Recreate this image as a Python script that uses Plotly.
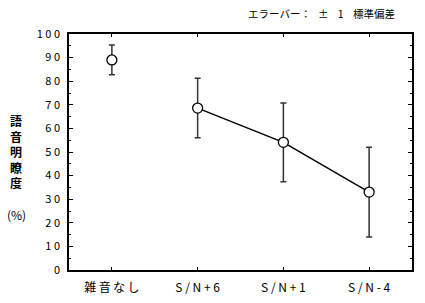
import plotly.graph_objects as go

categories = ["雑音なし", "S/N+6", "S/N+1", "S/N-4"]
means = [89.0, 68.6, 54.1, 33.0]
sd = [6.3, 12.6, 16.7, 19.0]
y_ticks = [0, 10, 20, 30, 40, 50, 60, 70, 80, 90, 100]

FONT = "Noto Sans CJK JP, Noto Sans, sans-serif"
xs = list(range(len(categories)))


def spaced(s, sep):
    return sep.join(list(s))


cat_text = [spaced(categories[0], "\u2009")] + [spaced(c, " ") for c in categories[1:]]
y_text = [spaced(str(v), " ") for v in y_ticks]

fig = go.Figure()
# connecting line for noisy conditions
fig.add_trace(go.Scatter(
    x=xs[1:], y=means[1:], mode="lines",
    line=dict(color="black", width=1.5), showlegend=False, hoverinfo="skip"))
fig.add_trace(go.Scatter(
    x=xs, y=means, mode="markers",
    marker=dict(symbol="circle", size=10, color="white",
                line=dict(color="black", width=1.3)),
    error_y=dict(type="data", array=sd, color="#333333", thickness=1.5, width=3),
    showlegend=False))

W, H = 425, 303
ML, MR, MT, MB = 69, 13, 34, 33
PW, PH = W - ML - MR, H - MT - MB


def px(x):
    return (x - ML) / PW


def py(y):
    return (H - MB - y) / PH


fig.update_layout(
    width=W, height=H,
    margin=dict(l=ML, r=MR, t=MT, b=MB, autoexpand=False),
    paper_bgcolor="white", plot_bgcolor="white",
    font=dict(family=FONT, color="black", size=11),
    xaxis=dict(
        range=[-0.5, 3.5], tickvals=xs, ticktext=cat_text, automargin=False,
        showline=True, linecolor="black", linewidth=1.5, mirror="ticks",
        ticks="inside", ticklen=3, tickcolor="black", showgrid=False, zeroline=False,
        tickfont=dict(size=12, family=FONT), ticklabelstandoff=6),
    yaxis=dict(
        range=[0, 100], tickvals=y_ticks, ticktext=y_text, automargin=False,
        showline=True, linecolor="black", linewidth=1.5, mirror="ticks",
        ticks="inside", ticklen=4, tickcolor="black", showgrid=False, zeroline=False,
        minor=dict(dtick=5, ticks="inside", ticklen=2, tickcolor="black"),
        tickfont=dict(size=11, family=FONT), ticklabelstandoff=5),
    annotations=[
        dict(text="<b>語<br>音<br>明<br>瞭<br>度</b>", x=px(16), y=py(151),
             xref="paper", yref="paper", xanchor="center", yanchor="middle",
             showarrow=False, font=dict(size=12, family=FONT), align="center"),
        dict(text="(%)", x=px(16), y=py(214),
             xref="paper", yref="paper", xanchor="center", yanchor="middle",
             showarrow=False, font=dict(size=12, family=FONT), align="center"),
        dict(text="エラーバー：   ±    1    標準偏差", x=px(397), y=py(13),
             xref="paper", yref="paper", xanchor="right", yanchor="middle",
             showarrow=False, font=dict(size=10.5, family=FONT)),
    ],
)
fig.write_html("out.html")
